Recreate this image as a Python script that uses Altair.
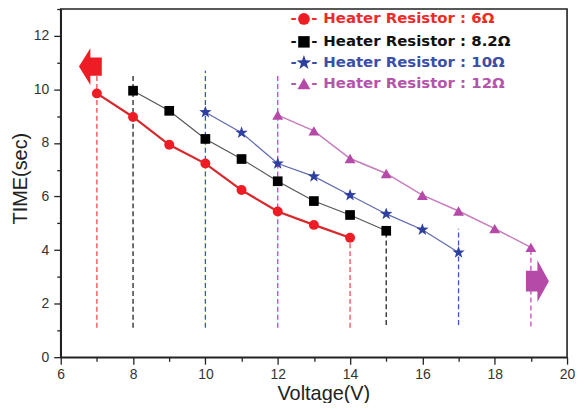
import altair as alt
import pandas as pd

# ---- data ----
volt_6 = [7, 8, 9, 10, 11, 12, 13, 14]
time_6 = [9.85, 8.97, 7.93, 7.23, 6.24, 5.44, 4.94, 4.46]
volt_82 = [8, 9, 10, 11, 12, 13, 14, 15]
time_82 = [9.95, 9.2, 8.15, 7.4, 6.57, 5.83, 5.31, 4.72]
volt_10 = [10, 11, 12, 13, 14, 15, 16, 17]
time_10 = [9.15, 8.38, 7.23, 6.75, 6.05, 5.35, 4.76, 3.91]
volt_12 = [12, 13, 14, 15, 16, 17, 18, 19]
time_12 = [9.04, 8.45, 7.42, 6.86, 6.05, 5.46, 4.8, 4.1]

legend_labels = ["Heater Resistor : 6\u03a9", "Heater Resistor : 8.2\u03a9",
                 "Heater Resistor : 10\u03a9", "Heater Resistor : 12\u03a9"]

# dashed guide lines (voltage, bottom, top)
vline_x = [7, 8, 10, 12, 14, 15, 17, 19]
vline_y1 = [1.1, 1.1, 1.1, 1.1, 1.1, 1.2, 1.2, 1.15]
vline_y2 = [10.55, 10.6, 10.7, 10.6, 4.46, 4.72, 4.8, 4.1]
vline_col = ["#f04a4e", "#222222", "#3b55c0", "#c844c4",
             "#f04a4e", "#222222", "#3b55c0", "#c844c4"]

# block arrows (voltage, time)
arrow_x = [6.82, 19.18]
arrow_y = [10.85, 2.84]

STAR = "M0,-1L0.235,-0.324L0.951,-0.309L0.38,0.124L0.588,0.809L0,0.4L-0.588,0.809L-0.38,0.124L-0.951,-0.309L-0.235,-0.324Z"
ARROW_L = "M-0.62,0L0,-1L0,-0.5L0.62,-0.5L0.62,0.5L0,0.5L0,1Z"
ARROW_R = "M0.55,0L0,-1L0,-0.5L-0.55,-0.5L-0.55,0.5L0,0.5L0,1Z"

series = [
    (volt_6, time_6, "#d9282c", 2.2, "#ee1d25", "circle", 100),
    (volt_82, time_82, "#555555", 1.2, "#000000", "square", 95),
    (volt_10, time_10, "#5f6ab0", 1.2, "#2e3f9f", STAR, 170),
    (volt_12, time_12, "#c77bbd", 1.5, "#b54aa9", "triangle-up", 120),
]
legend_colors = ["#ee2a2a", "#111111", "#3a4fa8", "#b554ab"]

even_test = "datum.value % 2 == 0"
xaxis = alt.Axis(
    values=list(range(6, 21)),
    labelExpr="datum.value % 2 == 0 ? datum.label : ''",
    tickSize={"condition": {"test": even_test, "value": 7}, "value": 4},
    title="Voltage(V)", labelFlush=False, labelPadding=3, titlePadding=3,
    titleX=264,
)
yaxis = alt.Axis(
    values=list(range(0, 14)),
    labelExpr="datum.value % 2 == 0 ? datum.label : ''",
    tickSize={"condition": {"test": even_test, "value": 7}, "value": 4},
    title="TIME(sec)", labelFlush=False, labelPadding=5, titlePadding=3,
    titleY=170,
)
xs = alt.Scale(domain=[6, 20], nice=False, zero=False)
ys = alt.Scale(domain=[0, 13], nice=False)

layers = []

vdf = pd.DataFrame({"v": vline_x, "y1": vline_y1, "y2": vline_y2, "c": vline_col})
layers.append(
    alt.Chart(vdf).mark_rule(strokeDash=[5, 3], strokeWidth=1.3).encode(
        x=alt.X("v:Q", scale=xs, axis=xaxis),
        y=alt.Y("y1:Q", scale=ys, axis=yaxis),
        y2="y2:Q",
        color=alt.Color("c:N", scale=None),
    )
)

for v, t, lc, lw, pc, shp, sz in series:
    df = pd.DataFrame({"v": v, "t": t})
    layers.append(
        alt.Chart(df).mark_line(color=lc, strokeWidth=lw).encode(
            x=alt.X("v:Q", scale=xs, axis=xaxis),
            y=alt.Y("t:Q", scale=ys, axis=yaxis),
        )
    )
    layers.append(
        alt.Chart(df).mark_point(filled=True, shape=shp, size=sz, color=pc,
                                 opacity=1, strokeWidth=0).encode(
            x=alt.X("v:Q", scale=xs, axis=xaxis),
            y=alt.Y("t:Q", scale=ys, axis=yaxis),
        )
    )

adf_l = pd.DataFrame({"v": [arrow_x[0]], "t": [arrow_y[0]]})
adf_r = pd.DataFrame({"v": [arrow_x[1]], "t": [arrow_y[1]]})
layers.append(
    alt.Chart(adf_l).mark_point(filled=True, shape=ARROW_L, size=1369,
                                color="#ee1d25", opacity=1, strokeWidth=0).encode(
        x=alt.X("v:Q", scale=xs, axis=xaxis), y=alt.Y("t:Q", scale=ys, axis=yaxis))
)
layers.append(
    alt.Chart(adf_r).mark_point(filled=True, shape=ARROW_R, size=1764,
                                color="#b54aa9", opacity=1, strokeWidth=0).encode(
        x=alt.X("v:Q", scale=xs, axis=xaxis), y=alt.Y("t:Q", scale=ys, axis=yaxis))
)

# manual legend (pixel placement inside the plot area)
one = pd.DataFrame({"k": [0]})
row_y = [9, 32, 53, 74]
for i, (lab, col) in enumerate(zip(legend_labels, legend_colors)):
    shp, sz = series[i][5], series[i][6]
    y = row_y[i]
    txt = dict(baseline="middle", font="DejaVu Sans", fontSize=15,
               fontWeight="bold", color=col)
    layers.append(alt.Chart(one).mark_text(align="left", **txt).encode(
        x=alt.value(264), y=alt.value(y), text=alt.value(lab)))
    layers.append(alt.Chart(one).mark_text(align="center", **txt).encode(
        x=alt.value(234), y=alt.value(y), text=alt.value("-")))
    layers.append(alt.Chart(one).mark_text(align="center", **txt).encode(
        x=alt.value(255), y=alt.value(y), text=alt.value("-")))
    layers.append(alt.Chart(one).mark_point(
        filled=True, shape=shp, size=sz * 1.4, color=series[i][4], opacity=1,
        strokeWidth=0).encode(x=alt.value(244.5), y=alt.value(y + 1)))

chart = alt.layer(*layers).properties(
    width=509, height=350,
    autosize=alt.AutoSizeParams(type="none"),
    padding={"left": 53, "top": 0, "right": 10, "bottom": 45},
).configure_view(
    stroke="#222222", strokeWidth=1.6,
).configure_axis(
    grid=False,
    domainColor="#222222", domainWidth=1.6,
    tickColor="#222222", tickWidth=1.3,
    labelColor="#333333", labelFont="Liberation Sans", labelFontSize=14,
    titleColor="#222222", titleFont="Liberation Sans", titleFontSize=20,
    titleFontWeight="normal",
)

chart.save("out.html", embed_options={"renderer": "svg", "actions": False})
